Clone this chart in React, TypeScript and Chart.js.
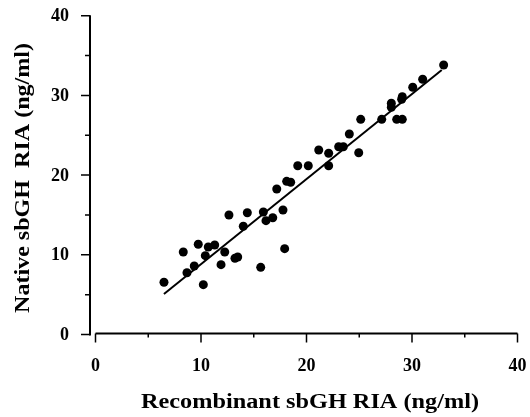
import React, { useEffect, useRef } from "react";
import { Chart, registerables } from "chart.js";

Chart.register(...registerables);

// Recombinant sbGH RIA (ng/ml) — x values
const recombinant = [
  6.49, 8.32, 8.67, 9.36, 9.74, 10.22, 10.41, 10.69, 11.3, 11.9, 12.25, 12.65,
  13.22, 13.48, 14.01, 14.39, 15.66, 15.91, 16.16, 16.8, 17.18, 17.77, 17.93,
  18.12, 18.5, 19.17, 20.17, 21.16, 22.1, 22.1, 23.05, 23.49, 24.06, 24.95,
  25.14, 27.13, 28.04, 28.04, 28.55, 29.08, 29.08, 29.02, 30.07, 31.01, 33.0,
];
// Native sbGH RIA (ng/ml) — y values
const native = [
  6.55, 10.35, 7.75, 8.59, 11.32, 6.25, 9.89, 10.98, 11.23, 8.76, 10.35, 14.99,
  9.56, 9.72, 13.58, 15.28, 8.43, 15.37, 14.28, 14.65, 18.26, 15.62, 10.77,
  19.22, 19.1, 21.18, 21.18, 23.15, 22.74, 21.18, 23.56, 23.56, 25.16, 22.81,
  27.0, 27.0, 29.01, 28.51, 27.0, 27.0, 29.84, 29.51, 31.02, 32.02, 33.81,
];
// Regression line end points
const fitX = [6.49, 32.82];
const fitY = [5.08, 33.19];

const xTicks = [0, 10, 20, 30, 40];
const yTicks = [0, 10, 20, 30, 40];
const xMinorTicks = [5, 15, 25, 35];
const yMinorTicks = [5, 15, 25, 35];
const xTitle = "Recombinant sbGH RIA (ng/ml)";
const yTitle = "Native sbGH  RIA (ng/ml)";

const FONT = '"Liberation Serif", "Times New Roman", serif';

const axesPlugin = {
  id: "customAxes",
  afterDraw(chart: any) {
    const ctx = chart.ctx as CanvasRenderingContext2D;
    const xs = chart.scales.x;
    const ys = chart.scales.y;
    ctx.save();
    ctx.strokeStyle = "#000";
    ctx.fillStyle = "#000";
    ctx.lineWidth = 2;
    ctx.lineCap = "butt";

    // Y axis (detached slightly left of x=0)
    const ax = xs.getPixelForValue(0) - 5.5;
    ctx.beginPath();
    ctx.moveTo(ax, ys.getPixelForValue(0) + 1);
    ctx.lineTo(ax, ys.getPixelForValue(40) - 0.5);
    ctx.stroke();
    ctx.lineWidth = 1.5;
    ctx.beginPath();
    for (const v of yTicks) {
      const py = ys.getPixelForValue(v);
      ctx.moveTo(ax, py);
      ctx.lineTo(ax - 9, py);
    }
    for (const v of yMinorTicks) {
      const py = ys.getPixelForValue(v);
      ctx.moveTo(ax, py);
      ctx.lineTo(ax - 5, py);
    }
    ctx.stroke();

    // X axis
    const ay = ys.getPixelForValue(0) - 1;
    ctx.lineWidth = 2;
    ctx.beginPath();
    ctx.moveTo(xs.getPixelForValue(0), ay);
    ctx.lineTo(xs.getPixelForValue(40), ay);
    ctx.stroke();
    ctx.lineWidth = 1.5;
    ctx.beginPath();
    for (const v of xTicks) {
      const px = xs.getPixelForValue(v);
      ctx.moveTo(px, ay);
      ctx.lineTo(px, ay + 9);
    }
    for (const v of xMinorTicks) {
      const px = xs.getPixelForValue(v);
      ctx.moveTo(px, ay);
      ctx.lineTo(px, ay + 4);
    }
    ctx.stroke();

    // Tick labels
    ctx.font = `bold 18px ${FONT}`;
    ctx.textAlign = "right";
    ctx.textBaseline = "middle";
    for (const v of yTicks) {
      ctx.fillText(String(v), ax - 21, ys.getPixelForValue(v) + 1);
    }
    ctx.textAlign = "center";
    ctx.textBaseline = "alphabetic";
    for (const v of xTicks) {
      ctx.fillText(String(v), xs.getPixelForValue(v), ay + 37);
    }

    // Axis titles (slightly stretched horizontally like the reference)
    ctx.font = `bold 20px ${FONT}`;
    ctx.textAlign = "center";
    ctx.textBaseline = "alphabetic";
    const xw = ctx.measureText(xTitle).width;
    ctx.save();
    ctx.translate(310, 408);
    ctx.scale(338 / xw, 1);
    ctx.fillText(xTitle, 0, 0);
    ctx.restore();

    const yw = ctx.measureText(yTitle).width;
    ctx.save();
    ctx.translate(29, 178);
    ctx.rotate(-Math.PI / 2);
    ctx.scale(270 / yw, 1);
    ctx.fillText(yTitle, 0, 0);
    ctx.restore();

    ctx.restore();
  },
};

export default function App() {
  const ref = useRef<HTMLCanvasElement | null>(null);

  useEffect(() => {
    if (!ref.current) return;
    const points = recombinant.map((x, i) => ({ x, y: native[i] }));
    const line = fitX.map((x, i) => ({ x, y: fitY[i] }));
    const chart = new Chart(ref.current, {
      type: "scatter",
      data: {
        datasets: [
          {
            type: "line",
            data: line,
            borderColor: "#000",
            borderWidth: 2,
            pointRadius: 0,
            fill: false,
            showLine: true,
          } as any,
          {
            type: "scatter",
            data: points,
            backgroundColor: "#000",
            borderColor: "#000",
            pointRadius: 4.5,
            borderWidth: 0,
          },
        ],
      },
      options: {
        animation: false,
        responsive: false,
        maintainAspectRatio: false,
        devicePixelRatio: 1,
        layout: { padding: { left: 95.5, right: 12.5, top: 15.7, bottom: 82.5 } },
        plugins: { legend: { display: false }, tooltip: { enabled: false } },
        scales: {
          x: { type: "linear", min: 0, max: 40, display: false },
          y: { type: "linear", min: 0, max: 40, display: false },
        },
      },
      plugins: [axesPlugin],
    });
    return () => chart.destroy();
  }, []);

  return (
    <div style={{ position: "absolute", left: 0, top: 0, width: 530, height: 417, background: "#fff" }}>
      <canvas ref={ref} width={530} height={417} style={{ width: 530, height: 417 }} />
    </div>
  );
}
